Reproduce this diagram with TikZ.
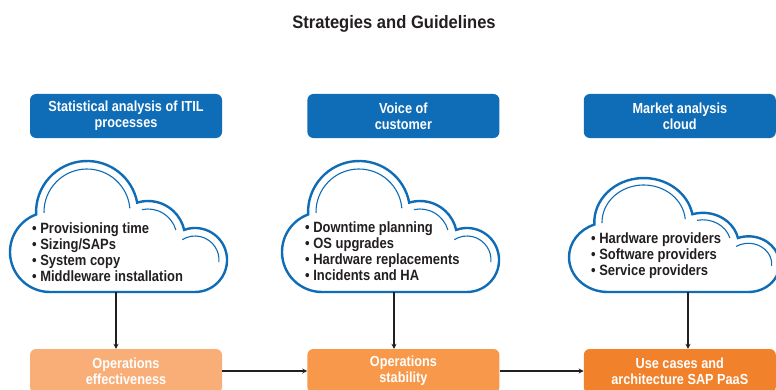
\documentclass[tikz,border=0pt]{standalone}
\usepackage{fontspec}
\setmainfont{Liberation Sans}[FakeStretch=0.87]
\newfontfamily\titlefont{Liberation Sans}[FakeStretch=0.92]
\usetikzlibrary{positioning,arrows.meta}
\definecolor{sapblue}{HTML}{0F6CB6}
\definecolor{opA}{HTML}{F9AE78}
\definecolor{opB}{HTML}{F7984A}
\definecolor{opC}{HTML}{F1812A}
\definecolor{ink}{HTML}{231F20}
\tikzset{%
  head/.style={fill=sapblue,text=white,rounded corners=6pt,minimum width=192pt,
    minimum height=44pt,align=center,font=\fontsize{14.6}{16}\selectfont\bfseries},
  ops/.style={text=white,rounded corners=6pt,minimum width=192pt,
    minimum height=44pt,align=center,font=\fontsize{14.6}{16}\selectfont\bfseries},
  items/.style={text=ink,align=left,anchor=west,inner sep=0pt,
    font=\fontsize{14.9}{16}\selectfont\bfseries},
  arr/.style={draw=ink,line width=1.3pt,-{Stealth[length=5pt,width=5pt]}},
  rim/.style={draw=sapblue,line width=2.4pt,fill=white},
  rimthin/.style={draw=sapblue,line width=1.1pt},
  pics/bubble/.style={code={
    \draw[rim] (40,0) arc[start angle=-90,end angle=-249.7,radius=40]
      arc[start angle=182.8,end angle=10.6,radius=51]
      arc[start angle=107.1,end angle=12.6,radius=37]
      arc[start angle=109.9,end angle=-90,radius=32] -- cycle;
    \draw[rimthin] ([shift={(181:43)}]77,80) arc[start angle=181,end angle=5,radius=43];
    \draw[rimthin] ([shift={(102:29)}]138,54) arc[start angle=102,end angle=16,radius=29];
    \draw[rimthin] ([shift={(122:24)}]185,32) arc[start angle=122,end angle=-5,radius=24];
  }}
}

\begin{document}
\begin{tikzpicture}[x=1pt,y=1pt]
  \useasboundingbox (0,0) rectangle (776,389);

  \node[font=\titlefont\fontsize{18}{20}\selectfont\bfseries,text=ink,anchor=base] (title) at (394,360)
    {Strategies and Guidelines};

  \node[head] (b1) at (126,273) {Statistical analysis of ITIL\\processes};
  \node[head,right=85pt of b1] (b2) {Voice of\\customer};
  \node[head,right=84pt of b2] (b3) {Market analysis\\cloud};

  \pic at (10,97) {bubble};
  \pic at (282,97) {bubble};
  \pic[xscale=.97,yscale=.87] at (569,97) {bubble};

  \node[items] (i1) at (32,137) {• Provisioning time\\• Sizing/SAPs\\• System copy\\• Middleware installation};
  \node[items] (i2) at (305,138) {• Downtime planning\\• OS upgrades\\• Hardware replacements\\• Incidents and HA};
  \node[items] (i3) at (591,133) {• Hardware providers\\• Software providers\\• Service providers};

  \node[ops,fill=opA] (o1) at (126,18) {Operations\\effectiveness};
  \node[ops,fill=opB,right=85pt of o1] (o2) {Operations\\stability};
  \node[ops,fill=opC,right=84pt of o2] (o3) {Use cases and\\architecture SAP PaaS};

  \coordinate (k1) at (116,97);
  \coordinate (k2) at (394,97);
  \coordinate (k3) at (688,97);

  \draw[arr] (k1) -- (k1 |- o1.north);
  \draw[arr] (k2) -- (k2 |- o2.north);
  \draw[arr] (k3) -- (k3 |- o3.north);
  \draw[arr] (o1) -- (o2);
  \draw[arr] (o2) -- (o3);
\end{tikzpicture}
\end{document}
